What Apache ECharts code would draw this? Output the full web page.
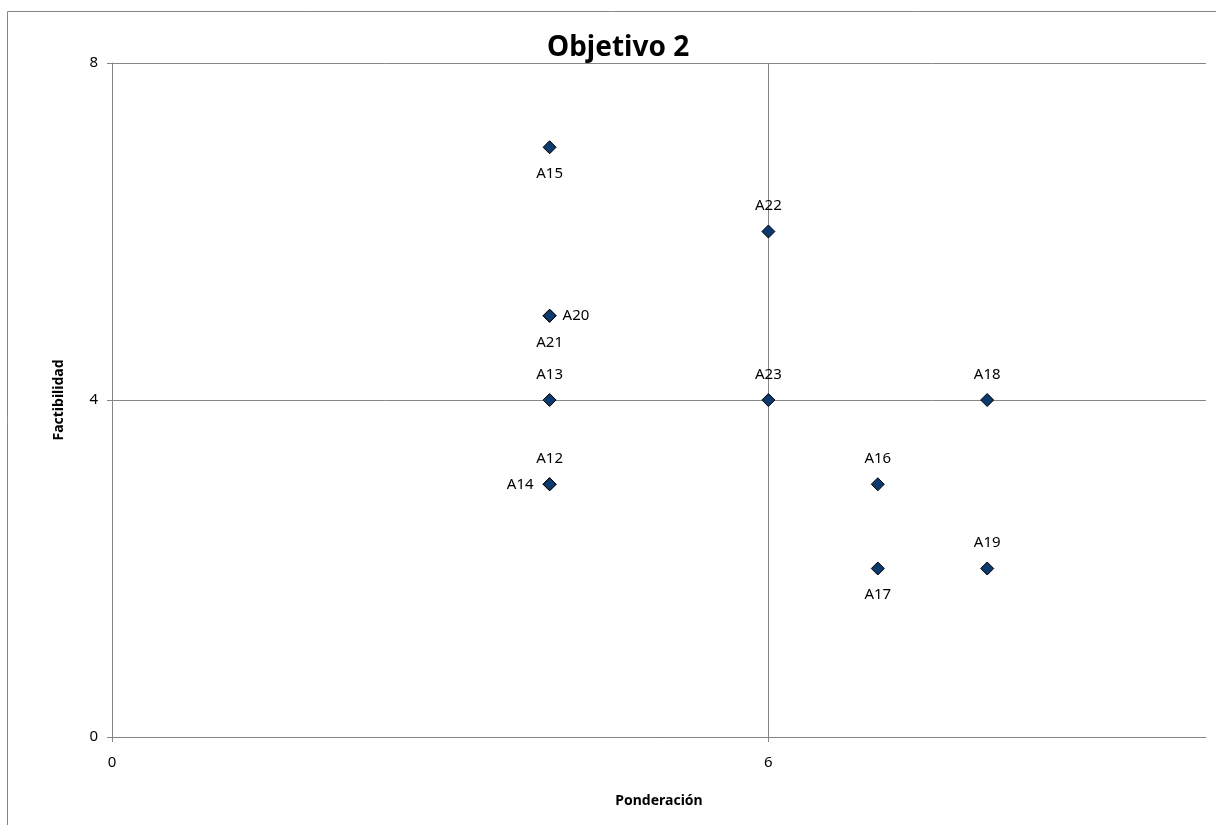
<!DOCTYPE html>
<html>
<head>
<meta charset="utf-8">
<script src="https://cdn.jsdelivr.net/npm/echarts@6/dist/echarts.min.js"></script>
<style>
html,body{margin:0;padding:0;background:#fff;}
#chart{width:1216px;height:825px;}
</style>
</head>
<body>
<div id="chart"></div>
<script>
// ---- data ----
var chartTitle = 'Objetivo 2';
var xAxisName = 'Ponderación';
var yAxisName = 'Factibilidad';
var names        = ['A12','A13','A14','A15','A16','A17','A18','A19','A20','A21','A22','A23'];
var ponderacion  = [4, 4, 4, 4, 7, 7, 8, 8, 4, 4, 6, 6];
var factibilidad = [3, 4, 3, 7, 3, 2, 4, 2, 5, 5, 6, 4];
var xTicks = [0, 6];
var yTicks = [0, 4, 8];

// ---- label placement (style) ----
var placement = {
  A12:'top', A13:'top', A14:'left', A15:'bottom', A16:'top', A17:'bottom',
  A18:'top', A19:'top', A20:'right', A21:'bottom', A22:'top', A23:'top'
};
var distances = { top: 11, bottom: 12, left: 9, right: 6 };

var gray = '#868686';
var font = '"Noto Sans", "Open Sans", sans-serif';

var seriesData = names.map(function (n, i) {
  var pos = placement[n];
  return {
    name: n,
    value: [ponderacion[i], factibilidad[i]],
    label: { position: pos, distance: distances[pos] }
  };
});

var chart = echarts.init(document.getElementById('chart'), null, { renderer: 'canvas' });
chart.setOption({
  backgroundColor: '#fff',
  animation: false,
  title: {
    text: chartTitle,
    left: 542,
    top: 29,
    textStyle: { fontFamily: font, fontWeight: 'bold', fontSize: 28, color: '#000' }
  },
  graphic: [{
    type: 'rect',
    silent: true,
    z: -1,
    shape: { x: 7.5, y: 11.5, width: 1400, height: 1000 },
    style: { fill: 'none', stroke: gray, lineWidth: 1 }
  }],
  grid: { left: 112, right: 10, top: 63, bottom: 88, containLabel: false },
  xAxis: {
    type: 'value',
    min: 0, max: 10, interval: 6,
    name: xAxisName,
    nameLocation: 'middle',
    nameGap: 57,
    nameTextStyle: { fontFamily: font, fontWeight: 'bold', fontSize: 14, color: '#000' },
    axisLine: { show: true, lineStyle: { color: gray, width: 1 } },
    axisTick: { show: true, length: 5, customValues: xTicks, lineStyle: { color: gray } },
    axisLabel: { customValues: xTicks, margin: 18, fontFamily: font, fontSize: 15, color: '#000' },
    splitLine: { show: true, lineStyle: { color: gray, width: 1 } }
  },
  yAxis: {
    type: 'value',
    min: 0, max: 8, interval: 4,
    name: yAxisName,
    nameLocation: 'middle',
    nameGap: 46,
    nameTextStyle: { fontFamily: font, fontWeight: 'bold', fontSize: 14, color: '#000' },
    axisLine: { show: true, lineStyle: { color: gray, width: 1 } },
    axisTick: { show: true, length: 5, customValues: yTicks, lineStyle: { color: gray } },
    axisLabel: { customValues: yTicks, margin: 14, fontFamily: font, fontSize: 15, color: '#000' },
    splitLine: { show: true, lineStyle: { color: gray, width: 1 } }
  },
  series: [{
    type: 'scatter',
    symbol: 'diamond',
    symbolSize: 13,
    itemStyle: { color: '#0c3a6e', borderColor: '#000', borderWidth: 1, opacity: 1 },
    label: {
      show: true,
      formatter: '{b}',
      fontFamily: font,
      fontSize: 15,
      color: '#000'
    },
    data: seriesData
  }]
});
</script>
</body>
</html>
